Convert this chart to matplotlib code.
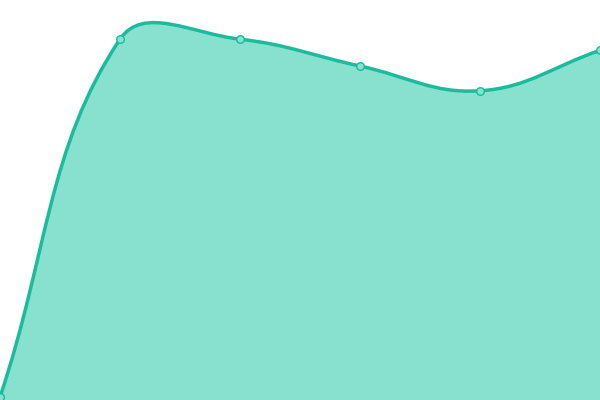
import numpy as np
import matplotlib
matplotlib.use('Agg')
import matplotlib.pyplot as plt
from matplotlib.path import Path
from matplotlib.patches import PathPatch

# données (axes cachés, échelle 0-100)
labels = ['A', 'B', 'C', 'D', 'E', 'F']
values = [0.75, 90.2, 90.2, 83.5, 77.3, 87.4]

line_color = '#1abc9c'
fill_color = '#88e0cf'
tension = 0.4

fig = plt.figure(figsize=(6, 4), dpi=100)
ax = fig.add_axes([0, 0, 1, 1])
ax.set_xlim(0, len(labels) - 1)
ax.set_ylim(0, 100)
ax.axis('off')

# points en pixels pour calculer les points de contrôle (courbe type Chart.js)
xs = np.arange(len(values))
pts = ax.transData.transform(np.column_stack([xs, values]))

def control_points(p0, p1, p2, t):
    d01 = np.hypot(*(p1 - p0))
    d12 = np.hypot(*(p2 - p1))
    s01 = d01 / (d01 + d12) if d01 + d12 else 0
    s12 = d12 / (d01 + d12) if d01 + d12 else 0
    prev = p1 - t * s01 * (p2 - p0)
    nxt = p1 + t * s12 * (p2 - p0)
    return prev, nxt

n = len(pts)
cps = []
for i in range(n):
    p0 = pts[max(i - 1, 0)]
    p2 = pts[min(i + 1, n - 1)]
    cps.append(control_points(p0, pts[i], p2, tension))

verts = [pts[0]]
codes = [Path.MOVETO]
for i in range(n - 1):
    verts += [cps[i][1], cps[i + 1][0], pts[i + 1]]
    codes += [Path.CURVE4] * 3

inv = ax.transData.inverted()
verts_data = inv.transform(np.array(verts))

# zone remplie jusqu'en bas
fill_verts = list(verts_data) + [(xs[-1], 0), (xs[0], 0), verts_data[0]]
fill_codes = codes + [Path.LINETO, Path.LINETO, Path.CLOSEPOLY]
ax.add_patch(PathPatch(Path(fill_verts, fill_codes), facecolor=fill_color,
                       edgecolor='none'))

# ligne
ax.add_patch(PathPatch(Path(verts_data, codes), facecolor='none',
                       edgecolor=line_color, linewidth=2.5))

# points
ax.plot(xs, values, 'o', markersize=5.5, markerfacecolor=fill_color,
        markeredgecolor=line_color, markeredgewidth=1, clip_on=True)

plt.savefig('out.png', dpi=100)
